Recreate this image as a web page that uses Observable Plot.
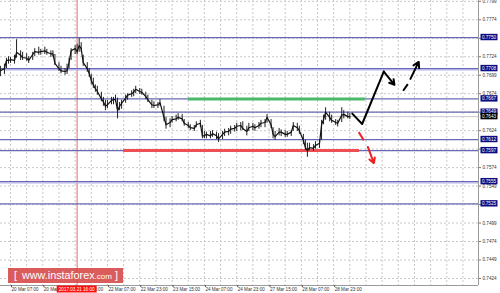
<!DOCTYPE html>
<html><head><meta charset="utf-8">
<script src="https://cdn.jsdelivr.net/npm/d3@7"></script>
<script src="https://cdn.jsdelivr.net/npm/@observablehq/plot@0.6"></script>
<style>
html,body{margin:0;padding:0;background:#fff;}
#wrap{position:relative;width:500px;height:293px;overflow:hidden;}
#wm{position:absolute;left:8px;top:268px;width:115px;height:15px;background:rgba(214,70,70,0.88);color:#fff;font-family:"Liberation Sans",Arial,sans-serif;font-size:10.8px;line-height:15px;white-space:nowrap;}
#wm .b{position:absolute;top:0;}
</style></head><body><div id="wrap"></div>
<script>
// bar index = hourly bars counted from 20 Mar 07:00
const barIdx = [
 -5,-3,-2,-1,0,2,3,5,6,8,
 9,11,12,14,15,17,18,20,21,22,
 24,25,27,28,29,30,32,33,34,35,
 36,38,39,40,41,42,43,45,46,47,
 48,50,51,52,53,54,55,57,58,60,
 61,62,64,65,67,68,70,71,73,74,
 76,77,79,80,82,83,85,86,88,89,
 91,92,94,95,96,97,99,100,102,103,
 105,106,108,109,111,112,114,115,117,118,
 120,121,123,124,126,127,129,130,131,133,
 134,136,137,139,140,142,143,145,146,147,
 148,150,151,153,154,155,156,158,159,161,
 162,164,165,167,168];
const barHigh = [
 .7711,.7714,.7722,.7724,.7723,.7726,.7747,.7732,.7730,.7728,
 .7724,.7730,.7735,.7737,.7734,.7737,.7734,.7732,.7732,.7727,
 .7716,.7711,.7708,.7714,.7722,.7735,.7739,.7741,.7749,.7743,
 .7726,.7716,.7708,.7700,.7695,.7686,.7684,.7676,.7669,.7665,
 .7665,.7669,.7669,.7672,.7668,.7662,.7665,.7672,.7674,.7678,
 .7680,.7684,.7681,.7680,.7676,.7672,.7665,.7663,.7662,.7666,
 .7657,.7642,.7640,.7643,.7645,.7647,.7646,.7639,.7635,.7632,
 .7631,.7636,.7638,.7631,.7623,.7622,.7623,.7624,.7622,.7620,
 .7623,.7626,.7627,.7630,.7631,.7634,.7635,.7636,.7630,.7634,
 .7634,.7632,.7635,.7638,.7639,.7646,.7639,.7628,.7623,.7627,
 .7625,.7624,.7623,.7624,.7635,.7634,.7630,.7619,.7611,.7607,
 .7607,.7605,.7609,.7611,.7638,.7645,.7655,.7649,.7645,.7639,
 .7638,.7655,.7651,.7649,.7647];
const barLow = [
 .7697,.7700,.7708,.7714,.7715,.7714,.7722,.7719,.7719,.7718,
 .7715,.7719,.7724,.7726,.7726,.7727,.7726,.7723,.7724,.7712,
 .7704,.7701,.7699,.7700,.7708,.7719,.7727,.7727,.7730,.7730,
 .7711,.7703,.7696,.7686,.7681,.7676,.7672,.7663,.7657,.7651,
 .7654,.7659,.7659,.7662,.7640,.7651,.7653,.7661,.7665,.7669,
 .7670,.7674,.7673,.7672,.7666,.7662,.7654,.7654,.7654,.7657,
 .7636,.7626,.7628,.7634,.7636,.7638,.7636,.7630,.7627,.7624,
 .7623,.7628,.7628,.7613,.7613,.7613,.7613,.7615,.7612,.7608,
 .7612,.7616,.7617,.7619,.7622,.7623,.7624,.7624,.7617,.7623,
 .7624,.7623,.7626,.7628,.7628,.7634,.7627,.7613,.7611,.7617,
 .7616,.7615,.7615,.7616,.7623,.7623,.7619,.7605,.7597,.7588,
 .7597,.7596,.7599,.7600,.7611,.7632,.7638,.7636,.7634,.7631,
 .7629,.7635,.7640,.7640,.7639];
const barClose = [
 .7705,.7708,.7719,.7719,.7720,.7719,.7730,.7726,.7723,.7722,
 .7719,.7727,.7731,.7730,.7731,.7732,.7730,.7728,.7728,.7715,
 .7708,.7705,.7704,.7705,.7716,.7732,.7735,.7731,.7739,.7735,
 .7716,.7708,.7701,.7692,.7686,.7681,.7677,.7667,.7663,.7657,
 .7659,.7665,.7666,.7666,.7651,.7657,.7661,.7668,.7672,.7674,
 .7676,.7680,.7677,.7676,.7670,.7666,.7659,.7658,.7659,.7662,
 .7642,.7632,.7635,.7639,.7640,.7642,.7640,.7634,.7631,.7628,
 .7627,.7632,.7634,.7617,.7617,.7619,.7617,.7620,.7617,.7613,
 .7619,.7622,.7623,.7626,.7627,.7630,.7631,.7627,.7623,.7628,
 .7630,.7628,.7631,.7634,.7635,.7642,.7632,.7619,.7616,.7622,
 .7622,.7619,.7619,.7622,.7631,.7628,.7624,.7611,.7601,.7597,
 .7601,.7600,.7604,.7607,.7632,.7639,.7649,.7642,.7638,.7635,
 .7634,.7645,.7646,.7643,.7643];

const levels = [0.7750, 0.7708, 0.7667, 0.7649, 0.7612, 0.7597, 0.7555, 0.7525];
const doubleLevels = [0.7708, 0.7555];
const currentPrice = 0.7643;
const yTicks = [0.7424,0.7449,0.7474,0.7499,0.7524,0.7549,0.7574,0.7599,0.7624,0.7649,0.7674,0.7699,0.7724,0.7749,0.7774,0.7799];
const tickIdx = [0,16,32,48,64,80,96,112,128,144,160];
const timeLabels = ["20 Mar 07:00","20 Mar 23:00","21 Mar 15:00","22 Mar 07:00","22 Mar 23:00","23 Mar 15:00","24 Mar 07:00","24 Mar 23:00","27 Mar 15:00","28 Mar 07:00","28 Mar 23:00"];
const markerIdx = 33;
const markerLabel = "2017.03.21 16:00";

// support / resistance segments
const greenSeg = [{x1: 88, x2: 175.7, y: 0.7667}];
const redSeg = [{x1: 56, x2: 172.8, y: 0.7597}];
// forecast arrows
const mainPath = [{x: 169.2, y: 0.7647}, {x: 174.1, y: 0.7633}, {x: 184.8, y: 0.7704}];
const mainHead = [{x1: 184.8, y1: 0.7704, x2: 190.1, y2: 0.7686}];
const upDash = [{x1: 194.4, y1: 0.7678, x2: 196.7, y2: 0.7687}];
const upHead = [{x1: 198.0, y1: 0.7694, x2: 202.1, y2: 0.7717}];
const downDash = [{x1: 172.4, y1: 0.7622, x2: 174.9, y2: 0.7611}];
const downHead = [{x1: 176.9, y1: 0.7602, x2: 179.9, y2: 0.7580}];

const xDomain = [-4.95, 231.7];
const yDomain = [0.74145, 0.78001];

const bars = barIdx.map((d, i) => ({i: d, h: barHigh[i], l: barLow[i], c: barClose[i]}));
const gridIdx = d3.range(0, 232, 8);
const FONT = "Liberation Sans, Arial, sans-serif";

const chart = Plot.plot({
  width: 500, height: 293,
  marginLeft: 0, marginRight: 22, marginTop: 0, marginBottom: 8,
  style: {fontFamily: FONT, background: "#fff", color: "#333"},
  x: {domain: xDomain, axis: null},
  y: {domain: yDomain, axis: null},
  marks: [
    Plot.ruleY(yTicks, {stroke: "#c8c8c8", strokeDasharray: "2,2"}),
    Plot.ruleX(gridIdx, {stroke: "#c8c8c8", strokeDasharray: "2,2"}),
    Plot.ruleX([markerIdx], {stroke: "#f29a9a", strokeWidth: 1.5}),
    Plot.ruleY([currentPrice], {stroke: "#c8c8c8"}),
    Plot.ruleY(levels, {stroke: "#6868b6", strokeWidth: 1.2}),
    Plot.ruleY(doubleLevels, {stroke: "#b4b4e6", strokeWidth: 1.4, dy: 1.2}),
    Plot.ruleY(greenSeg, {y: "y", x1: "x1", x2: "x2", stroke: "#4cb96a", strokeWidth: 3}),
    Plot.ruleY(redSeg, {y: "y", x1: "x1", x2: "x2", stroke: "#ee4f55", strokeWidth: 3}),
    Plot.ruleX(bars, {x: "i", y1: "l", y2: "h", stroke: "#222", strokeWidth: 1}),
    Plot.line(bars, {x: "i", y: "c", stroke: "#111", strokeWidth: 1.2}),
    Plot.line(mainPath, {x: "x", y: "y", stroke: "#000", strokeWidth: 2}),
    Plot.arrow(mainHead, {x1: "x1", y1: "y1", x2: "x2", y2: "y2", stroke: "#000", strokeWidth: 2, headLength: 8}),
    Plot.link(upDash, {x1: "x1", y1: "y1", x2: "x2", y2: "y2", stroke: "#000", strokeWidth: 2}),
    Plot.arrow(upHead, {x1: "x1", y1: "y1", x2: "x2", y2: "y2", stroke: "#000", strokeWidth: 2, headLength: 8}),
    Plot.link(downDash, {x1: "x1", y1: "y1", x2: "x2", y2: "y2", stroke: "#ee2222", strokeWidth: 2}),
    Plot.arrow(downHead, {x1: "x1", y1: "y1", x2: "x2", y2: "y2", stroke: "#ee2222", strokeWidth: 2, headLength: 7}),
    Plot.ruleX([xDomain[1]], {stroke: "#9a9a9a"}),
    Plot.ruleY([yDomain[0]], {stroke: "#9a9a9a"}),
    Plot.axisY({anchor: "right", ticks: yTicks, tickFormat: d => d.toFixed(4), tickSize: 2, tickPadding: 2, fontSize: 4.6, stroke: "#777"}),
    Plot.axisX({anchor: "bottom", ticks: tickIdx, tickFormat: d => timeLabels[tickIdx.indexOf(d)], tickSize: 2, tickPadding: 0, textAnchor: "start", dx: 1, fontSize: 4.6, stroke: "#555"})
  ]
});

const wrap = document.getElementById("wrap");
wrap.appendChild(chart);
const sx = chart.scale("x"), sy = chart.scale("y");
const svg = d3.select(chart);

// price level labels on the axis
const lab = svg.append("g").attr("font-family", FONT).attr("font-size", 4.6);
levels.concat([currentPrice]).forEach((v, k) => {
  const y = sy.apply(v);
  const cur = k === levels.length;
  lab.append("rect").attr("x", 480.5).attr("y", y - 3.2).attr("width", 17).attr("height", 6.4)
    .attr("fill", cur ? "#000" : "#0c0c80");
  lab.append("text").attr("x", 489).attr("y", y).attr("dy", "0.35em").attr("text-anchor", "middle")
    .attr("fill", "#fff").text(v.toFixed(4));
});
// time marker label
const mx = sx.apply(markerIdx);
lab.append("rect").attr("x", mx - 20).attr("y", 285.5).attr("width", 40).attr("height", 7).attr("fill", "#ff1010");
lab.append("text").attr("x", mx).attr("y", 289).attr("dy", "0.35em").attr("text-anchor", "middle").attr("fill", "#fff").text(markerLabel);

// watermark
const wm = document.createElement("div");
wm.id = "wm";
wm.innerHTML = '<span class="b" style="left:6px">[</span><span class="b" style="left:14px">www.instaforex<span style="font-size:8px">.com</span></span><span class="b" style="left:107px">]</span>';
wrap.appendChild(wm);
</script>
</body></html>
